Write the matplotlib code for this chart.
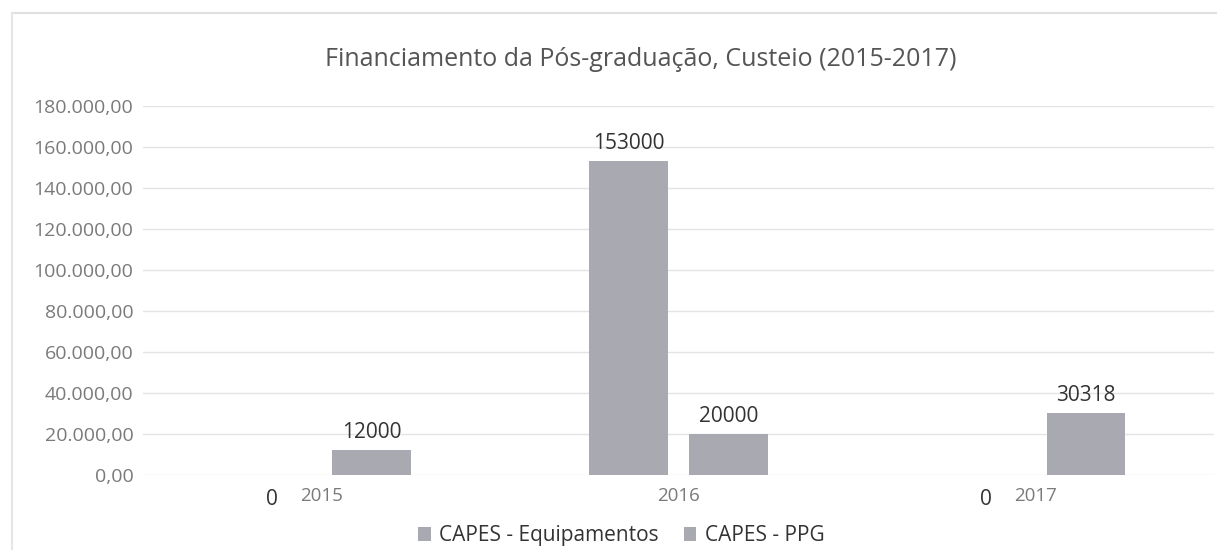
import matplotlib.pyplot as plt
import numpy as np
from matplotlib.lines import Line2D

plt.rcParams['font.family'] = ['Open Sans', 'DejaVu Sans']

years = ["2015", "2016", "2017"]
equipamentos = [0, 153000, 0]
ppg = [12000, 20000, 30318]
series_names = ["CAPES - Equipamentos", "CAPES - PPG"]
yticks = [0, 20000, 40000, 60000, 80000, 100000, 120000, 140000, 160000, 180000]

bar_color = "#a9a9b1"

fig = plt.figure(figsize=(12.28, 5.6), dpi=100)
ax = fig.add_axes([0.1165, 0.152, 0.8725, 0.659])

x = np.arange(len(years))
w = 0.22
off = 0.14
b1 = ax.bar(x - off, equipamentos, w, color=bar_color, label=series_names[0])
b2 = ax.bar(x + off, ppg, w, color=bar_color, label=series_names[1])

for bars, vals in ((b1, equipamentos), (b2, ppg)):
    for rect, v in zip(bars, vals):
        # zero labels sit down next to the year label, like the original
        if v == 0:
            xt, va = (0, -10), "top"
        else:
            xt, va = (0, 5), "bottom"
        ax.annotate(str(v), (rect.get_x() + rect.get_width() / 2, v),
                    xytext=xt, textcoords="offset points",
                    ha="center", va=va, fontsize=15, color="#333333")

ax.set_xlim(-0.5, 2.5)
ax.set_ylim(0, 180000)
ax.set_yticks(yticks)
ax.set_yticklabels([f"{v:,.2f}".replace(",", "X").replace(".", ",").replace("X", ".") for v in yticks],
                   fontsize=14, color="#7a7a7a")
ax.set_xticks(x)
ax.set_xticklabels(years, fontsize=13.5, color="#7a7a7a")
ax.tick_params(length=0, pad=7)
ax.tick_params(axis="x", pad=9)
ax.grid(axis="y", color="#e4e4e4", linewidth=1)
ax.set_axisbelow(True)
for s in ax.spines.values():
    s.set_visible(False)

fig.text(0.522, 0.893, "Financiamento da Pós-graduação, Custeio (2015-2017)",
         ha="center", va="center", fontsize=18, color="#555555")
fig.legend(loc="center", bbox_to_anchor=(0.506, 0.043), ncol=2, frameon=False,
           fontsize=15, handlelength=0.6, handleheight=0.6, columnspacing=1.2,
           handletextpad=0.4, labelcolor="#333333")

# faint frame of the chart area
fig.add_artist(Line2D([0.01, 0.99], [0.977, 0.977], transform=fig.transFigure,
                      color="#e0e0e0", linewidth=1.5))
fig.add_artist(Line2D([0.01, 0.01], [0.02, 0.977], transform=fig.transFigure,
                      color="#e6e6e6", linewidth=1.5))

fig.savefig("out.png", dpi=100)
